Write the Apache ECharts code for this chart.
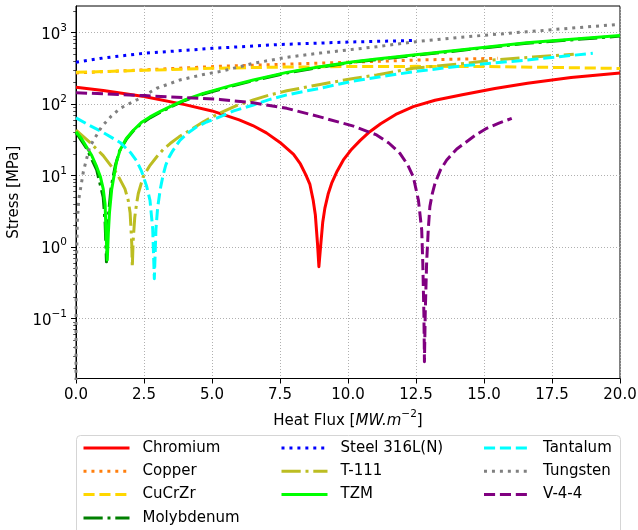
<!DOCTYPE html>
<html><head><meta charset="utf-8">
<script src="https://cdn.jsdelivr.net/npm/echarts@6.0.0/dist/echarts.min.js"></script>
<style>html,body{margin:0;padding:0;background:#fff}#c{width:638px;height:530px}</style>
</head><body><div id="c"></div>
<script>
// ---- data (x = heat flux MW/m2, y = stress MPa) ----
const xTickLabels = ['0.0','2.5','5.0','7.5','10.0','12.5','15.0','17.5','20.0'];
const yTickValues = [0.1, 1, 10, 100, 1000];
const seriesNames = ['Chromium','Copper','CuCrZr','Molybdenum','Steel 316L(N)','T-111','TZM','Tantalum','Tungsten','V-4-4'];

const chromium = [[0,171],[1,154],[2.5,127],[4,98],[5,80],[6,60],[6.5,50],[7,39.5],[7.5,29],[8,19.8],[8.25,14.5],[8.45,10.2],[8.6,7.5],[8.72,4.5],[8.8,2.8],[8.88,1.1],[8.93,0.53],[9.0,1.1],[9.07,2.2],[9.15,3.5],[9.27,5.5],[9.4,7.8],[9.6,11.5],[9.83,16.5],[10.1,22.5],[10.45,31],[10.8,41],[11.2,53],[11.8,73],[12.4,92],[13.2,113],[14.2,135],[15.4,165],[16.6,195],[18.2,235],[20,272]];
const copper = [[0,272],[2.5,300],[5.5,340],[6.8,351],[10,383],[12.5,412],[15.5,436]];
const cucrzr = [[0,277],[2.5,296],[5,316],[7.5,328],[10,334],[12.5,336],[15,335],[17.5,325],[20,314]];
const molybdenum = [[0,40],[0.39,24],[0.76,12],[1.0,5],[1.07,2.2],[1.12,0.62],[1.16,1.6],[1.2,3.0],[1.28,6.3],[1.34,8.6],[1.45,14],[1.6,22],[1.85,32],[2.1,42],[2.4,53],[2.72,64],[3.1,77],[3.46,90],[4.0,112],[4.68,138],[5.66,175],[6.52,212],[7.75,272],[8.97,327],[10.2,384],[11.05,418],[12.4,476],[14.2,565],[16.57,706],[20,890]];
const steel = [[0,383],[1,440],[2.5,512],[5,600],[7.5,680],[10,735],[12.5,775]];
const t111 = [[0,43],[0.51,29],[1.0,19],[1.5,10.7],[1.8,6.5],[1.92,4.5],[1.99,3],[2.05,1.1],[2.07,0.52],[2.1,1.2],[2.16,2.6],[2.23,4.1],[2.29,5.6],[2.47,9.6],[2.7,13.5],[2.97,18.3],[3.2,23],[3.46,28],[3.8,35],[4.19,43],[4.7,57],[5.29,75],[5.9,95],[6.52,114],[7.1,133],[7.75,153],[8.97,188],[10.2,228],[11.05,255],[12.4,316],[14.36,371],[15.34,412],[16.8,455],[18.3,496]];
const tzm = [[0,41],[0.2,33],[0.39,25],[0.58,19],[0.76,13.3],[0.9,9.5],[1.0,6.5],[1.07,4.0],[1.1,1.7],[1.15,0.66],[1.19,1.6],[1.23,3.0],[1.31,6.3],[1.37,8.6],[1.48,15],[1.62,22.8],[1.85,33],[2.11,43],[2.4,55],[2.72,66],[3.1,79],[3.46,92],[4.0,114],[4.68,141],[5.66,179],[6.52,217],[7.75,277],[8.97,333],[10.2,391],[11.05,426],[12.4,484],[14.2,575],[16.57,719],[20,905]];
const tantalum = [[0,64],[0.5,50],[1,40],[1.62,29],[2.0,21],[2.23,16],[2.41,11.5],[2.6,7],[2.72,4.5],[2.82,1.8],[2.88,0.36],[2.94,1.8],[3.0,3.5],[3.1,6.5],[3.2,10],[3.3,14],[3.42,18],[3.55,22],[3.82,31],[4.1,39],[4.44,48],[4.8,56],[5.2,64],[5.8,80],[6.52,97],[7.1,115],[7.75,134],[8.97,166],[10.2,210],[12.4,283],[14.3,345],[16.57,412],[19,512]];
const tungsten = [[0.0003,0.0135],[0.002,0.09],[0.01,0.45],[0.05,2.3],[0.1,4.6],[0.27,11.3],[0.5,25],[0.94,48],[1.3,68],[1.62,87],[2.23,114],[2.97,166],[3.82,217],[4.68,258],[5.4,290],[6.52,371],[7.75,450],[8.97,515],[10.2,582],[11.05,632],[12.5,745],[14.12,857],[16.57,1025],[20,1305]];
const v44 = [[0,144],[2.54,131],[5.29,116],[6.52,104],[7.75,87],[8.97,66],[10.2,49],[11.05,37],[11.5,28.5],[11.91,20.4],[12.2,14],[12.4,9.6],[12.59,4.5],[12.71,1.73],[12.75,0.59],[12.79,0.118],[12.81,0.0249],[12.84,0.12],[12.89,0.59],[12.95,1.73],[13.01,3.67],[13.1,5.6],[13.2,7.8],[13.4,12],[13.63,16.5],[14.0,23.5],[14.36,29.7],[14.7,37],[15.1,45.7],[15.55,54],[16.02,63]];

const seriesData = [chromium, copper, cucrzr, molybdenum, steel, t111, tzm, tantalum, tungsten, v44];
const seriesColors = ['#ff0000','#ff7f0e','#ffd700','#008000','#0000ff','#bcbd22','#00ff00','#00ffff','#808080','#800080'];
const LW = 3;
const DOT = [LW, LW*1.65], DASH = [LW*3.7, LW*1.6], DASHDOT = [LW*6.4, LW*1.6, LW, LW*1.6];
const seriesDash = ['solid', DOT, DASH, DASHDOT, DOT, DASHDOT, 'solid', DASH, DOT, DASH];

const FONT = 'DejaVu Sans';
const yMin = 0.01449, yMax = 2348;
const minorTicks = [];
for (let e = -2; e <= 3; e++) for (let m = 2; m <= 9; m++) {
  const v = parseFloat((m * Math.pow(10, e)).toPrecision(3));
  if (v > yMin && v < yMax) minorTicks.push(v);
}

const chart = echarts.init(document.getElementById('c'), null, {renderer: 'canvas'});
const gridLine = {show: true, lineStyle: {color: '#b0b0b0', width: 1, type: [1, 2]}};
const legendCommon = {
  orient: 'vertical', padding: 0, itemWidth: 46, itemHeight: 16, itemGap: 7.3,
  selectedMode: false,
  itemStyle: {opacity: 0},
  lineStyle: {width: LW, cap: 'butt'},
  textStyle: {fontFamily: FONT, fontSize: 15, color: '#000', padding: [0, 0, 0, 8], lineHeight: 16}
};
const option = {
  animation: false,
  backgroundColor: '#fff',
  grid: {left: 76, right: 18, top: 6, bottom: 151.5, containLabel: false, outerBoundsMode: 'none',
         show: true, borderColor: '#000', borderWidth: 1, backgroundColor: 'transparent'},
  graphic: [{type: 'rect', z: 1, shape: {x: 76.5, y: 435.5, width: 544, height: 130, r: 4},
             style: {fill: 'rgba(255,255,255,0.8)', stroke: '#d5d5d5', lineWidth: 1}}],
  legend: [
    Object.assign({left: 82, top: 440, data: seriesNames.slice(0, 4)}, legendCommon),
    Object.assign({left: 280, top: 440, data: seriesNames.slice(4, 7)}, legendCommon),
    Object.assign({left: 482.5, top: 440, data: seriesNames.slice(7, 10)}, legendCommon)
  ],
  xAxis: {
    type: 'value', min: 0, max: 20, interval: 2.5,
    name: '{a|Heat Flux [}{i|MW.m}{s|−2}{a|]}', nameLocation: 'middle', nameGap: 30,
    nameTextStyle: {rich: {
      a: {fontFamily: FONT, fontSize: 15, color: '#000', lineHeight: 20, verticalAlign: 'bottom'},
      i: {fontFamily: FONT, fontSize: 15, color: '#000', fontStyle: 'italic', lineHeight: 20, verticalAlign: 'bottom'},
      s: {fontFamily: FONT, fontSize: 10.5, color: '#000', lineHeight: 12, verticalAlign: 'top'}
    }},
    axisLine: {show: true, onZero: false, lineStyle: {color: '#000', width: 1}},
    axisTick: {show: true, inside: false, length: 5, lineStyle: {color: '#000', width: 1}},
    axisLabel: {fontFamily: FONT, fontSize: 15, color: '#000', margin: 9,
                formatter: v => xTickLabels[Math.round(v / 2.5)] ?? ''},
    splitLine: gridLine
  },
  yAxis: [{
    type: 'log', logBase: 10, min: yMin, max: yMax,
    name: 'Stress [MPa]', nameLocation: 'middle', nameGap: 50, nameRotate: 90,
    nameTextStyle: {fontFamily: FONT, fontSize: 15, color: '#000'},
    axisLine: {show: true, lineStyle: {color: '#000', width: 1}},
    axisTick: {show: true, inside: false, length: 5, customValues: yTickValues, lineStyle: {color: '#000', width: 1}},
    axisLabel: {customValues: yTickValues, margin: 9,
      formatter: v => { const e = Math.round(Math.log10(v)); return '{b|10}{s|' + (e < 0 ? '−' + (-e) : e) + '}'; },
      rich: {
        b: {fontFamily: FONT, fontSize: 15, color: '#000', lineHeight: 20, verticalAlign: 'bottom'},
        s: {fontFamily: FONT, fontSize: 10.5, color: '#000', lineHeight: 12, verticalAlign: 'top'}
      }},
    splitLine: gridLine
  }, {
    type: 'log', logBase: 10, min: yMin, max: yMax, position: 'left',
    axisLine: {show: false},
    axisTick: {show: true, inside: false, length: 2.8, customValues: minorTicks, lineStyle: {color: '#000', width: 0.7}},
    axisLabel: {show: false}, splitLine: {show: false}
  }],
  series: seriesNames.map((n, i) => ({
    name: n, type: 'line', data: seriesData[i], yAxisIndex: 0,
    showSymbol: false, symbol: 'none', smooth: false, clip: true,
    itemStyle: {color: seriesColors[i]},
    lineStyle: {color: seriesColors[i], width: LW, type: seriesDash[i], cap: 'butt', join: 'round'},
    z: 2 + i * 0.01
  }))
};
chart.setOption(option);
</script></body></html>
